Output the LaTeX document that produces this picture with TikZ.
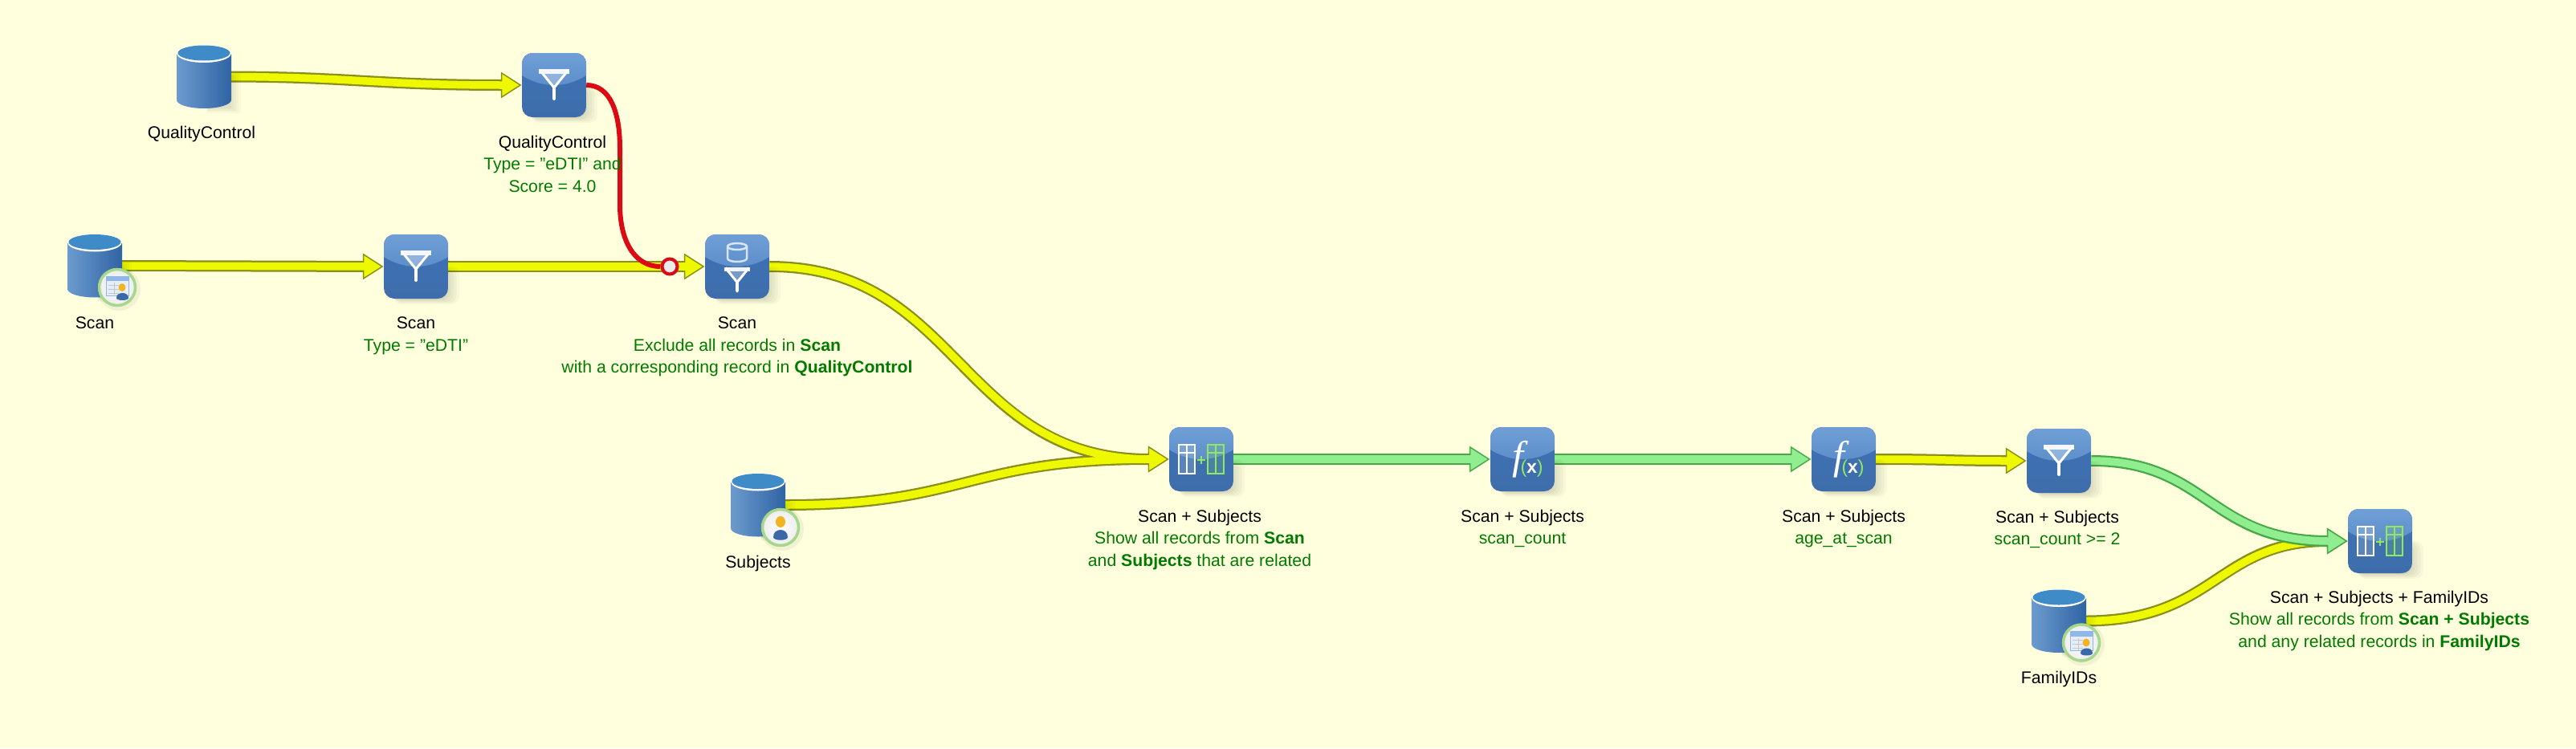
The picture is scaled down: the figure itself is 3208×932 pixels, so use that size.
\documentclass[tikz,border=0pt]{standalone}
\usepackage{fontspec}
\setmainfont{Liberation Sans}
\newfontfamily\serifit[ItalicFont={Liberation Serif Italic}]{Liberation Serif}
\usetikzlibrary{arrows.meta,calc}
\definecolor{bgcol}{HTML}{FFFFDE}
\definecolor{yfill}{HTML}{EEF800}
\definecolor{yedge}{HTML}{8A8E1C}
\definecolor{gfill}{HTML}{90EE90}
\definecolor{gedge}{HTML}{48A848}
\definecolor{lbl}{HTML}{007A00}
\definecolor{tophi}{HTML}{709FD6}
\definecolor{toplo}{HTML}{5B8DC9}
\definecolor{botlo}{HTML}{3D73B6}
\definecolor{botdk}{HTML}{3F6DAB}
\definecolor{tabg}{HTML}{90E860}
\definecolor{cylL}{HTML}{6C9BCE}
\definecolor{cylR}{HTML}{2F63A3}
\definecolor{cylT}{HTML}{3F8BC8}
\definecolor{rimg}{HTML}{A6D88C}
\definecolor{redl}{HTML}{DC0A14}
\definecolor{headc}{HTML}{F2B420}
\definecolor{bodyc}{HTML}{3B69A8}
\definecolor{tabf}{HTML}{E6EEF9}
\definecolor{tabh}{HTML}{8FB8E8}
\pgfdeclarelayer{bg}\pgfdeclarelayer{edges}
\pgfsetlayers{bg,edges,main}
\tikzset{
  txt/.style={font=\fontsize{21.2}{27.5}\selectfont,align=center,inner sep=0pt,text=black},
  iconbox/.style={minimum width=80pt,minimum height=80pt,inner sep=0pt},
  dbbox/.style={minimum width=68pt,minimum height=79pt,inner sep=0pt},
  gatebox/.style={circle,minimum size=19pt,inner sep=0pt,draw=redl,line width=4pt,fill=black!8},
  yout/.style={draw=yedge,line width=14pt,-{Triangle[length=26pt,width=31pt]}},
  yin/.style={draw=yfill,line width=9.5pt,shorten >=3pt,-{Triangle[length=21.5pt,width=25.5pt]}},
  gout/.style={draw=gedge,line width=14pt,-{Triangle[length=26pt,width=31pt]}},
  gin/.style={draw=gfill,line width=9.5pt,shorten >=3pt,-{Triangle[length=21.5pt,width=25.5pt]}},
}
\newcommand{\softshadow}{%
  \foreach \g in {0,3,...,15}{
    \fill[black,opacity=.03,rounded corners=10pt]
      (-28,6-\g*.4) rectangle (36+\g*1.2,40+\g*.45);}
}
\newcommand{\squareicon}[4]{% name, x, y, glyph
  \node[iconbox] (#1) at (#2,#3) {};
  \begin{scope}[shift={(#1.center)}]
    \softshadow
    \begin{scope}
      \clip[rounded corners=13pt] (-40,-40) rectangle (40,40);
      \shade[top color=botlo,bottom color=botdk] (-40,-40) rectangle (40,40);
      \shade[top color=tophi,bottom color=toplo]
        (-40,-40) -- (40,-40) -- (40,-12) .. controls (15,4) and (-15,4) .. (-40,-12) -- cycle;
    \end{scope}
    #4
  \end{scope}
}
\newcommand{\dbicon}[3]{% name x y
  \node[dbbox] (#1) at (#2,#3) {};
  \begin{scope}[shift={(#1.center)}]
    \foreach \g in {0,3,...,12}{
      \fill[black,opacity=.025] (4,0-\g*.5) rectangle (34+\g,39+\g*.5);}
    \shade[left color=cylL,right color=cylR]
      (-34,-28) -- (-34,29) arc[start angle=180,end angle=360,x radius=34,y radius=-10.5] -- (34,-28) -- cycle;
    \fill[white] (0,-28.5) ellipse[x radius=33.5,y radius=11];
    \fill[cylT] (0,-29.5) ellipse[x radius=32.5,y radius=9.5];
  \end{scope}
}
\newcommand{\badgebg}{%
  \fill[black,opacity=.05] (2,2) circle[radius=27];
  \shade[inner color=white,outer color=black!7,draw=rimg,line width=3.5pt] (0,0) circle[radius=22.5];
}
\newcommand{\tablebadge}[2]{%
  \begin{scope}[shift={(#1.center)},shift={(#2)}]
    \badgebg
    \fill[tabf,draw=tabh,line width=1pt] (-14,-14) rectangle (14,10);
    \fill[tabh] (-14,-14) rectangle (14,-8);
    \foreach \yy in {-3,2,7}{\draw[black!22,line width=1pt] (-11,\yy) -- (2,\yy);}
    \draw[black!22,line width=1pt] (-4,-6) -- (-4,9);
    \fill[headc] (6,0) ellipse[x radius=4.5,y radius=5];
    \fill[bodyc] (-1,13) .. controls (-1,5) and (14,5) .. (14,13) .. controls (14,17) and (-1,17) .. (-1,13) -- cycle;
  \end{scope}
}
\newcommand{\personbadge}[2]{%
  \begin{scope}[shift={(#1.center)},shift={(#2)}]
    \badgebg
    \fill[headc] (0,-7) ellipse[x radius=6,y radius=7];
    \fill[bodyc] (-9,12) .. controls (-9,0) and (9,0) .. (9,12) .. controls (9,17) and (-9,17) .. (-9,12) -- cycle;
  \end{scope}
}
\newcommand{\funnel}[3]{% cx, cy, scale
  \begin{scope}[shift={(#1,#2)},scale=#3]
    \fill[white,opacity=.3] (-18,-19) -- (18,-19) -- (2,1) -- (-2,1) -- cycle;
    \fill[white,opacity=.9] (-19,-20) rectangle (19,-14);
    \draw[white,line width=3pt,line join=round] (-18,-19) -- (-1,2) (18,-19) -- (1,2);
    \fill[white] (-2,0) rectangle (2,17);
    \fill[white] (0,17) circle[radius=2];
  \end{scope}
}
\newcommand{\tableglyph}[3]{%
  \begin{scope}[shift={(#1,0)}]
    \fill[#2,opacity=.15] (-10,-18) rectangle (10,18);
    \draw[#2,line width=#3] (-10,-18) rectangle (10,18) (0,-18) -- (0,18) (-10,-8) -- (10,-8);
  \end{scope}
}
\newcommand{\joinglyph}{%
  \tableglyph{-18}{white}{2.5pt}\tableglyph{18}{tabg}{2.5pt}
  \draw[tabg,line width=2.5pt] (-5,1) -- (5,1) (0,-4) -- (0,6);
}
\newcommand{\fxglyph}[1]{%
  \node[inner sep=0pt,text=white,anchor=base west] (#1f) at (-12.6,12.6)
    {{\fontsize{50}{50}\selectfont\serifit\itshape f}\kern-4pt\raisebox{-5pt}{\fontsize{23}{23}\selectfont\textcolor{tabg}{(}\textbf{x}\textcolor{tabg}{)}}};
}
\newcommand{\gt}[1]{\textcolor{lbl}{#1}}
\begin{document}
\begin{tikzpicture}[x=1pt,y=-1pt]
\useasboundingbox (0,0) rectangle (3208,932);
\begin{pgfonlayer}{bg}
  \fill[bgcol] (0,0) rectangle (3208,932);
\end{pgfonlayer}

% ----- icons
\dbicon{qcdb}{254}{95.5}
\squareicon{qcf}{690}{106}{\funnel{0}{0}{1}}
\dbicon{scandb}{118}{331}
\tablebadge{scandb}{28,27}
\squareicon{scanf}{518}{332}{\funnel{0}{0}{1}}
\node[gatebox] (gate) at (834,332) {};
\squareicon{excl}{918}{332}{%
  \draw[white,opacity=.75,line width=2.5pt] (-12,-25) -- (-12,-10) arc[start angle=180,end angle=360,x radius=12,y radius=-4] -- (12,-25) (0,-25) ellipse[x radius=12,y radius=4];
  \funnel{0}{17}{.82}}
\dbicon{subjdb}{944}{629}
\personbadge{subjdb}{28,28}
\squareicon{joina}{1496}{572}{\joinglyph}
\squareicon{fa}{1896}{572}{\fxglyph{fa}}
\squareicon{fb}{2296}{572}{\fxglyph{fb}}
\squareicon{scf}{2564}{574}{\funnel{0}{0}{1}}
\squareicon{joinb}{2964}{674}{\joinglyph}
\dbicon{famdb}{2564}{773.5}
\tablebadge{famdb}{28,27}

% ----- edges
\begin{pgfonlayer}{edges}
\foreach \s in {yout,yin}{
  \draw[\s] (qcdb.east) .. controls (440,96) and (470,106) .. (qcf.west);
  \draw[\s] (scandb.east) -- (scanf.west);
  \draw[\s] (scanf.east) -- (excl.west);
  \draw[\s] (excl.east) .. controls (1195,332) and (1195,572) .. (joina.west);
  \draw[\s] (subjdb.east) .. controls (1204,629) and (1204,572) .. (joina.west);
  \draw[\s] (fb.east) .. controls (2420,572) and (2430,574) .. (scf.west);
  \draw[\s] (famdb.east) .. controls (2760,773) and (2760,674) .. (joinb.west);
}
\foreach \s in {gout,gin}{
  \draw[\s] (joina.east) -- (fa.west);
  \draw[\s] (fa.east) -- (fb.west);
  \draw[\s] (scf.east) .. controls (2750,574) and (2750,674) .. (joinb.west);
}
\draw[redl,line width=6pt] (qcf.east) .. controls (760,106) and (772,140) .. (772,185) -- (772,255) .. controls (772,300) and (790,332) .. (gate.west);
\end{pgfonlayer}

% ----- labels
\node[txt] (l1) at (251,167) {QualityControl};
\node[txt,anchor=north] (l2) at (688,168.5) {QualityControl\\\gt{Type = "eDTI" and}\\\gt{Score = 4.0}};
\node[txt] (l3) at (118,402) {Scan};
\node[txt,anchor=north] (l4) at (518,394.5) {Scan\\\gt{Type = "eDTI"}};
\node[txt,anchor=north] (l5) at (918,394.5) {Scan\\\gt{Exclude all records in \textbf{Scan}}\\\gt{with a corresponding record in \textbf{QualityControl}}};
\node[txt] (l6) at (944,702) {Subjects};
\node[txt,anchor=north] (l7) at (1494,634.5) {Scan + Subjects\\\gt{Show all records from \textbf{Scan}}\\\gt{and \textbf{Subjects} that are related}};
\node[txt,anchor=north] (l8) at (1896,634.5) {Scan + Subjects\\\gt{scan\_count}};
\node[txt,anchor=north] (l9) at (2296,634.5) {Scan + Subjects\\\gt{age\_at\_scan}};
\node[txt,anchor=north] (l10) at (2562,635.5) {Scan + Subjects\\\gt{scan\_count >= 2}};
\node[txt] (l11) at (2564,846) {FamilyIDs};
\node[txt,anchor=north] (l12) at (2963,735.5) {Scan + Subjects + FamilyIDs\\\gt{Show all records from \textbf{Scan + Subjects}}\\\gt{and any related records in \textbf{FamilyIDs}}};
\end{tikzpicture}
\end{document}
